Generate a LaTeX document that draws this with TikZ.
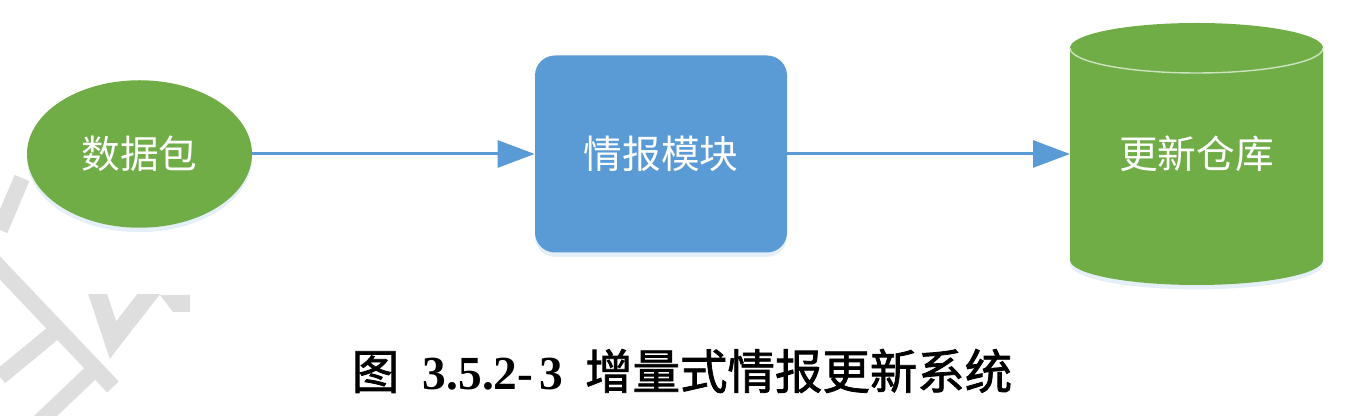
\documentclass[tikz,border=0pt]{standalone}
\usepackage{fontspec}
\setmainfont{Liberation Serif}
\newfontfamily\cjk{Noto Sans CJK SC}
\newfontfamily\capcjk{Noto Sans CJK SC}[FakeBold=1.6]
\usetikzlibrary{positioning,arrows.meta,shapes.geometric,shadows,backgrounds}
\definecolor{leaf}{HTML}{70AD47}
\definecolor{sky}{HTML}{5B9BD5}
\definecolor{wmgray}{HTML}{DEDEDE}
\tikzset{
  glow/.style={drop shadow={shadow xshift=0pt, shadow yshift=-2.5pt, fill=sky!45, opacity=.35}},
  lbl/.style={text=white, font=\cjk\fontsize{22}{26}\selectfont},
  blob/.style={ellipse, fill=leaf, glow, lbl, minimum width=45mm, minimum height=29.5mm},
  card/.style={rectangle, rounded corners=4mm, fill=sky, glow, lbl, minimum width=50.4mm, minimum height=39.4mm},
  vault/.style={rectangle, lbl, outer sep=0pt, minimum width=50.6mm, minimum height=52.4mm},
  arr/.style={-{Triangle[length=7.4mm, width=5.4mm]}, line width=1.7pt, sky},
  rim/.style={draw=leaf!35!white, line width=0.8pt},
  wm/.style={wmgray, line width=3.2mm}}

\begin{document}
\begin{tikzpicture}
\useasboundingbox (0,0) rectangle (27.28,8.32);
% watermark remains
\draw[wm] (0,3.72) -- (0.44,4.76);
\draw[wm] (-0.2,3.17) -- (2.26,0.58);
\draw[wm] (0,0.78) -- (1.14,1.72);
\draw[wm] (0.7,-0.2) -- (1.94,0.98);
\begin{scope}
\clip (0,0) rectangle (5,2.42);
\draw[wm, line width=3.6mm] (1.9,2.6) -- (2.26,1.52) -- (3.1,2.6);
\fill[wmgray] (3.2,2.42) -- (3.8,2.42) -- (3.8,2.08) -- (3.46,2.08) -- cycle;
\end{scope}

\node[blob] (pkt) at (2.79,5.24) {数据包};
\node[card] (mod) at (13.22,5.24) {情报模块};
\node[vault] (repo) at (23.93,5.24) {更新仓库};
\begin{scope}[on background layer]
\fill[leaf, glow] ([yshift=-5mm]repo.north west) -- ([yshift=5mm]repo.south west)
  arc[start angle=180, end angle=360, x radius=2.53, y radius=0.5]
  -- ([yshift=-5mm]repo.north east)
  arc[start angle=0, end angle=180, x radius=2.53, y radius=0.5] -- cycle;
\end{scope}
\draw[rim] ([yshift=-5mm]repo.north west) arc[start angle=180, end angle=360, x radius=2.53, y radius=0.5];

\draw[arr] (pkt.east) -- (mod.west);
\draw[arr] (mod.east) -- (repo.west);

\node (cap) at (13.64,0.9) {{\capcjk\fontsize{27}{30}\selectfont 图}\hspace{4.7mm}{\bfseries\fontsize{27}{30}\selectfont 3.5.2-\hspace{1.2mm}3}\hspace{4.4mm}{\capcjk\fontsize{27}{30}\selectfont 增量式情报更新系统}};
\end{tikzpicture}
\end{document}
